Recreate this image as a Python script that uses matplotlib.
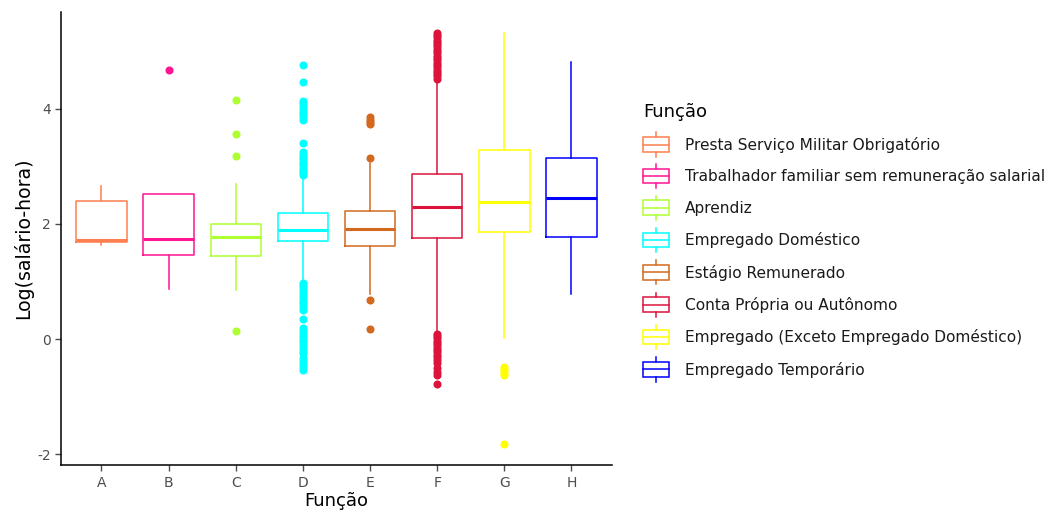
import matplotlib
matplotlib.use("Agg")
import matplotlib.pyplot as plt
from matplotlib.patches import Patch, Rectangle
from matplotlib.lines import Line2D
from matplotlib.legend_handler import HandlerBase

plt.rcParams["font.family"] = ["DejaVu Sans"]

# categorias e estatísticas das caixas (log do salário-hora)
codes = ["A", "B", "C", "D", "E", "F", "G", "H"]
labels = [
    "Presta Serviço Militar Obrigatório",
    "Trabalhador familiar sem remuneração salarial",
    "Aprendiz",
    "Empregado Doméstico",
    "Estágio Remunerado",
    "Conta Própria ou Autônomo",
    "Empregado (Exceto Empregado Doméstico)",
    "Empregado Temporário",
]
colors = ["#FF7F50", "#FF1493", "#ADFF2F", "#00FFFF",
          "#D2691E", "#DC143C", "#FFFF00", "#0000FF"]

whis_low = [1.63, 0.87, 0.85, 1.02, 0.79, 0.13, 0.02, 0.79]
q1 = [1.68, 1.46, 1.44, 1.71, 1.61, 1.75, 1.85, 1.78]
median = [1.72, 1.74, 1.77, 1.89, 1.91, 2.30, 2.38, 2.45]
q3 = [2.40, 2.52, 2.00, 2.18, 2.22, 2.86, 3.29, 3.15]
whis_high = [2.66, 2.52, 2.70, 2.79, 3.05, 4.48, 5.31, 4.81]

outliers = [
    [],
    [4.68],
    [0.14, 3.17, 3.56, 4.15],
    [2.84, 2.88, 2.92, 2.96, 3.00, 3.04, 3.08, 3.12, 3.16, 3.20, 3.24,
     3.41, 3.80, 3.85, 3.90, 3.95, 4.00, 4.05, 4.10, 4.14, 4.46, 4.76,
     0.98, 0.94, 0.90, 0.85, 0.80, 0.75, 0.70, 0.65, 0.60, 0.55, 0.50,
     0.35, 0.19, 0.14, 0.09, 0.04, -0.01, -0.06, -0.11, -0.16, -0.20,
     -0.24, -0.33, -0.38, -0.43, -0.48, -0.54],
    [0.17, 0.68, 3.15, 3.73, 3.77, 3.81, 3.85],
    [4.52, 4.56, 4.60, 4.64, 4.68, 4.72, 4.76, 4.80, 4.84, 4.88, 4.92,
     4.96, 5.00, 5.04, 5.08, 5.12, 5.16, 5.20, 5.24, 5.28, 5.31,
     0.09, 0.05, 0.01, -0.03, -0.07, -0.11, -0.15, -0.19, -0.23, -0.27,
     -0.31, -0.36, -0.41, -0.50, -0.57, -0.63, -0.78],
    [-0.48, -0.52, -0.56, -0.60, -0.63, -1.83],
    [],
]

fig = plt.figure(figsize=(10.53, 5.18), dpi=100)
ax = fig.add_axes([0.058, 0.102, 0.523, 0.875])

for i in range(len(codes)):
    stats = [dict(whislo=whis_low[i], q1=q1[i], med=median[i], q3=q3[i],
                  whishi=whis_high[i], fliers=outliers[i])]
    c = colors[i]
    ax.bxp(stats, positions=[i + 1], widths=0.75, showcaps=False,
           boxprops=dict(color=c, linewidth=1.1),
           whiskerprops=dict(color=c, linewidth=1.1),
           medianprops=dict(color=c, linewidth=2.2),
           flierprops=dict(marker="o", markerfacecolor=c, markeredgecolor=c,
                           markersize=4.8, linestyle="none"))

ax.set_xlim(0.4, 8.6)
ax.set_ylim(-2.19, 5.68)
ax.set_xticks(range(1, 9))
ax.set_xticklabels(codes)
ax.set_yticks([-2, 0, 2, 4])
ax.set_yticklabels(["-2", "0", "2", "4"])
ax.tick_params(colors="#4D4D4D", labelsize=10, length=4, width=1)
for s in ["top", "right"]:
    ax.spines[s].set_visible(False)
for s in ["left", "bottom"]:
    ax.spines[s].set_linewidth(1.1)
ax.set_xlabel("Função", fontsize=13, labelpad=2)
ax.set_ylabel("Log(salário-hora)", fontsize=13.6, labelpad=3)


class BoxKey(HandlerBase):
    def create_artists(self, legend, orig_handle, xdescent, ydescent,
                       width, height, fontsize, trans):
        c = orig_handle.get_edgecolor()
        x0, y0 = -xdescent, -ydescent
        cx, cy = x0 + width / 2, y0 + height / 2
        box = Rectangle((x0, y0 - 0.03 * height), width, 1.06 * height,
                        facecolor="none", edgecolor=c, linewidth=1.1,
                        transform=trans)
        med = Line2D([x0, x0 + width], [cy, cy], color=c,
                     linewidth=1.1, transform=trans)
        up = Line2D([cx, cx], [y0 + 1.03 * height, y0 + 1.38 * height],
                    color=c, linewidth=1.1, transform=trans)
        lo = Line2D([cx, cx], [y0 - 0.03 * height, y0 - 0.38 * height],
                    color=c, linewidth=1.1, transform=trans)
        return [box, med, up, lo]


handles = [Patch(edgecolor=c, facecolor="none") for c in colors]
leg = fig.legend(handles, labels, title="Função", loc="upper left",
                 bbox_to_anchor=(0.6106, 0.802), frameon=False,
                 handler_map={Patch: BoxKey()}, fontsize=11.1,
                 title_fontsize=13, handlelength=1.7, handleheight=1.0,
                 handletextpad=1.05, labelspacing=1.06, alignment="left",
                 borderaxespad=0, borderpad=0)
for t in leg.get_texts():
    t.set_color("#1A1A1A")

fig.savefig("out.png", dpi=100)
